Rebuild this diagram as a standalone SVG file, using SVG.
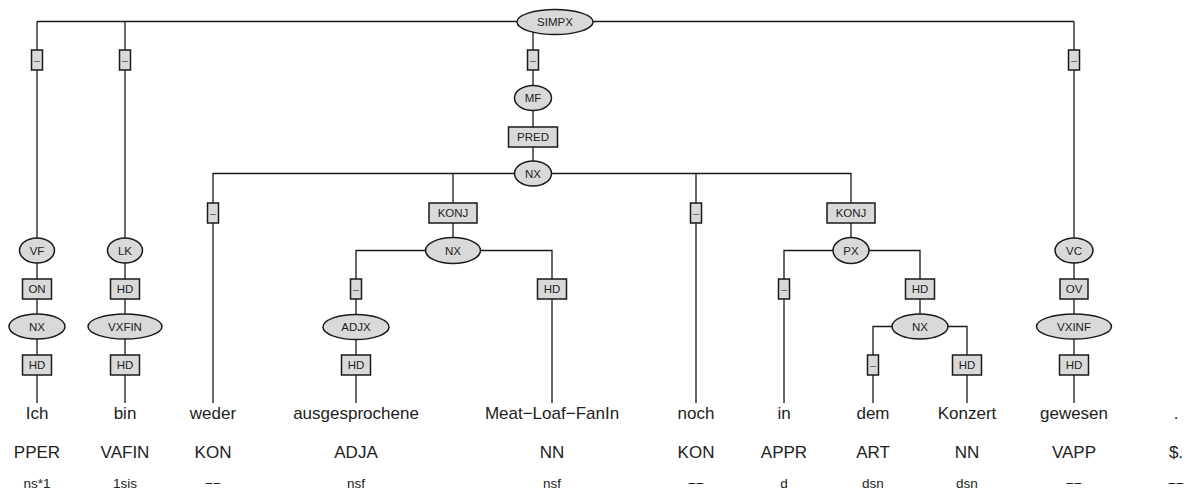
<svg xmlns="http://www.w3.org/2000/svg" width="1188" height="496" viewBox="0 0 1188 496">
<style>
.ln{fill:none;stroke:#1a1a1a;stroke-width:1.3}
.el{fill:#d9d9d9;stroke:#1a1a1a;stroke-width:1.5}
.bx{fill:#d9d9d9;stroke:#1a1a1a;stroke-width:1.5}
.nl{font-family:"Liberation Sans",Arial,sans-serif;font-size:11.5px;fill:#222;text-anchor:middle}
.dl{font-family:"Liberation Sans",Arial,sans-serif;font-size:11px;fill:#555;text-anchor:middle}
.w{font-family:"Liberation Sans",Arial,sans-serif;font-size:17px;fill:#222;text-anchor:middle}
.m{font-family:"Liberation Sans",Arial,sans-serif;font-size:13.5px;fill:#222;text-anchor:middle}
</style>
<rect width="1188" height="496" fill="#fff"/>
<g id="connectors">
<path class="ln" d="M37,21.5H1074M37,21.5V403M125,21.5V403M533,21.5V173M1074,21.5V403"/>
<path class="ln" d="M213,403V173.5H851V250M453,173.5V250M696,173.5V403"/>
<path class="ln" d="M356,403V250.5H552V403"/>
<path class="ln" d="M784,403V250.5H920V326.5"/>
<path class="ln" d="M873,403V326.5H967V403"/>
</g>
<g id="n-simpx"><ellipse class="el" cx="555" cy="22" rx="38" ry="12.5"/><text class="nl" x="555" y="26">SIMPX</text></g>
<g id="e-vf"><rect class="bx" x="31.5" y="50" width="11" height="20"/><text class="dl" x="37" y="64">–</text></g>
<g id="e-lk"><rect class="bx" x="119.5" y="50" width="11" height="20"/><text class="dl" x="125" y="64">–</text></g>
<g id="e-mf"><rect class="bx" x="527.5" y="50" width="11" height="20"/><text class="dl" x="533" y="64">–</text></g>
<g id="e-vc"><rect class="bx" x="1068.5" y="50" width="11" height="20"/><text class="dl" x="1074" y="64">–</text></g>
<g id="n-mf"><ellipse class="el" cx="533" cy="98" rx="18.5" ry="12.5"/><text class="nl" x="533" y="102">MF</text></g>
<g id="e-pred"><rect class="bx" x="508.5" y="127" width="49" height="20"/><text class="nl" x="533" y="141">PRED</text></g>
<g id="n-nx1"><ellipse class="el" cx="533" cy="173.5" rx="18.5" ry="12.5"/><text class="nl" x="533" y="177.5">NX</text></g>
<g id="e-weder"><rect class="bx" x="207.5" y="203" width="11" height="20"/><text class="dl" x="213" y="217">–</text></g>
<g id="e-konj1"><rect class="bx" x="429" y="203" width="48" height="20"/><text class="nl" x="453" y="217">KONJ</text></g>
<g id="e-noch"><rect class="bx" x="690.5" y="203" width="11" height="20"/><text class="dl" x="696" y="217">–</text></g>
<g id="e-konj2"><rect class="bx" x="827" y="203" width="48" height="20"/><text class="nl" x="851" y="217">KONJ</text></g>
<g id="n-vf"><ellipse class="el" cx="37" cy="250.5" rx="17.5" ry="12.5"/><text class="nl" x="37" y="254.5">VF</text></g>
<g id="n-lk"><ellipse class="el" cx="125" cy="250.5" rx="17.5" ry="12.5"/><text class="nl" x="125" y="254.5">LK</text></g>
<g id="n-nx2"><ellipse class="el" cx="453" cy="250.5" rx="27.5" ry="13"/><text class="nl" x="453" y="254.5">NX</text></g>
<g id="n-px"><ellipse class="el" cx="851" cy="250.5" rx="18" ry="13"/><text class="nl" x="851" y="254.5">PX</text></g>
<g id="n-vc"><ellipse class="el" cx="1074" cy="250.5" rx="19" ry="12.5"/><text class="nl" x="1074" y="254.5">VC</text></g>
<g id="e-on"><rect class="bx" x="22.5" y="279" width="29" height="20"/><text class="nl" x="37" y="293">ON</text></g>
<g id="e-lkhd"><rect class="bx" x="110.5" y="279" width="29" height="20"/><text class="nl" x="125" y="293">HD</text></g>
<g id="e-adjx"><rect class="bx" x="350.5" y="279" width="11" height="20"/><text class="dl" x="356" y="293">–</text></g>
<g id="e-meathd"><rect class="bx" x="537.5" y="279" width="29" height="20"/><text class="nl" x="552" y="293">HD</text></g>
<g id="e-in"><rect class="bx" x="778.5" y="279" width="11" height="20"/><text class="dl" x="784" y="293">–</text></g>
<g id="e-pxhd"><rect class="bx" x="905.5" y="279" width="29" height="20"/><text class="nl" x="920" y="293">HD</text></g>
<g id="e-ov"><rect class="bx" x="1060" y="279" width="28" height="20"/><text class="nl" x="1074" y="293">OV</text></g>
<g id="n-nx0"><ellipse class="el" cx="37" cy="326.5" rx="28" ry="12.5"/><text class="nl" x="37" y="330.5">NX</text></g>
<g id="n-vxfin"><ellipse class="el" cx="125" cy="326.5" rx="37" ry="12.5"/><text class="nl" x="125" y="330.5">VXFIN</text></g>
<g id="n-adjx"><ellipse class="el" cx="356" cy="327" rx="33" ry="12.5"/><text class="nl" x="356" y="331">ADJX</text></g>
<g id="n-nx3"><ellipse class="el" cx="920" cy="326.5" rx="28" ry="12.5"/><text class="nl" x="920" y="330.5">NX</text></g>
<g id="n-vxinf"><ellipse class="el" cx="1074" cy="326.5" rx="37.5" ry="12.5"/><text class="nl" x="1074" y="330.5">VXINF</text></g>
<g id="e-ichhd"><rect class="bx" x="22.5" y="355" width="29" height="20"/><text class="nl" x="37" y="369">HD</text></g>
<g id="e-binhd"><rect class="bx" x="110.5" y="355" width="29" height="20"/><text class="nl" x="125" y="369">HD</text></g>
<g id="e-ausghd"><rect class="bx" x="341.5" y="355" width="29" height="20"/><text class="nl" x="356" y="369">HD</text></g>
<g id="e-dem"><rect class="bx" x="867.5" y="355" width="11" height="20"/><text class="dl" x="873" y="369">–</text></g>
<g id="e-konzhd"><rect class="bx" x="952.5" y="355" width="29" height="20"/><text class="nl" x="967" y="369">HD</text></g>
<g id="e-gewhd"><rect class="bx" x="1059.5" y="355" width="29" height="20"/><text class="nl" x="1074" y="369">HD</text></g>
<g id="words">
<text class="w" x="37" y="419">Ich</text>
<text class="w" x="125" y="419">bin</text>
<text class="w" x="213" y="419">weder</text>
<text class="w" x="356" y="419">ausgesprochene</text>
<text class="w" x="552" y="419">Meat−Loaf−FanIn</text>
<text class="w" x="696" y="419">noch</text>
<text class="w" x="784" y="419">in</text>
<text class="w" x="873" y="419">dem</text>
<text class="w" x="967" y="419">Konzert</text>
<text class="w" x="1074" y="419">gewesen</text>
<text class="w" x="1176" y="419">.</text>
</g>
<g id="pos">
<text class="w" x="37" y="458">PPER</text>
<text class="w" x="125" y="458">VAFIN</text>
<text class="w" x="213" y="458">KON</text>
<text class="w" x="356" y="458">ADJA</text>
<text class="w" x="552" y="458">NN</text>
<text class="w" x="696" y="458">KON</text>
<text class="w" x="784" y="458">APPR</text>
<text class="w" x="873" y="458">ART</text>
<text class="w" x="967" y="458">NN</text>
<text class="w" x="1074" y="458">VAPP</text>
<text class="w" x="1176" y="458">$.</text>
</g>
<g id="morph">
<text class="m" x="37" y="488">ns*1</text>
<text class="m" x="125" y="488">1sis</text>
<text class="m" x="213" y="488">−−</text>
<text class="m" x="356" y="488">nsf</text>
<text class="m" x="552" y="488">nsf</text>
<text class="m" x="696" y="488">−−</text>
<text class="m" x="784" y="488">d</text>
<text class="m" x="873" y="488">dsn</text>
<text class="m" x="967" y="488">dsn</text>
<text class="m" x="1074" y="488">−−</text>
<text class="m" x="1176" y="488">−−</text>
</g>
</svg>
